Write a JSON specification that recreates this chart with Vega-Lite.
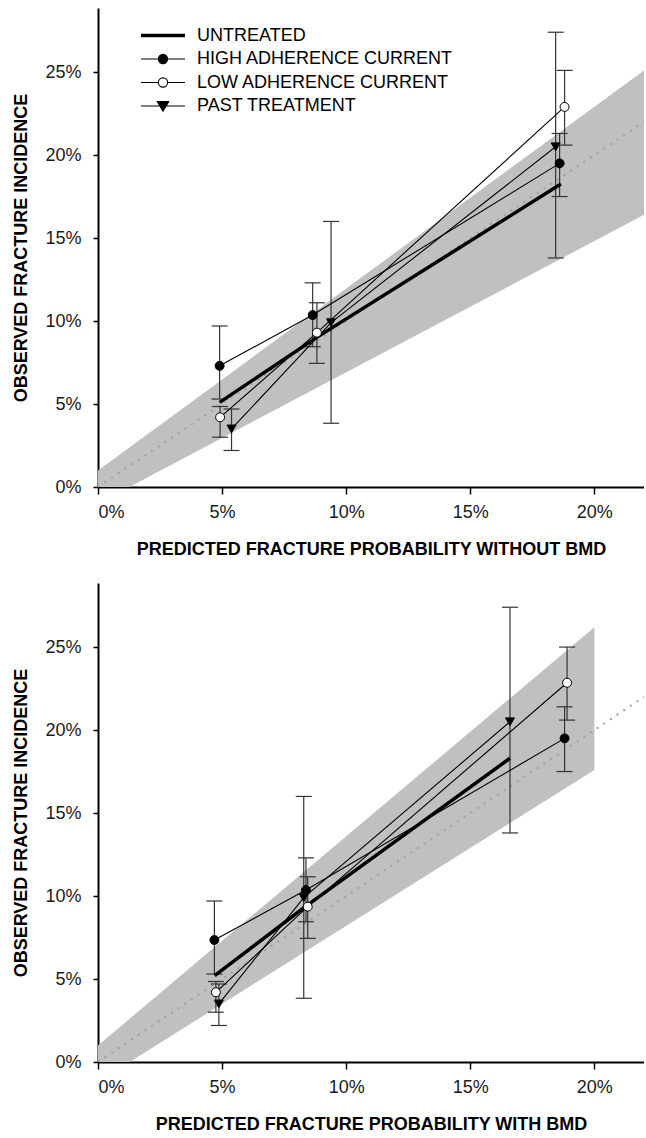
{
  "$schema": "https://vega.github.io/schema/vega-lite/v6.json",
  "background": "white",
  "padding": {"left": 12, "top": 8, "right": 0, "bottom": 0},
  "spacing": 25,
  "datasets": {
    "pts": [
      {"panel": "top", "series": "UNTREATED", "x": 0.049, "y": 0.051, "lo": null, "hi": null},
      {"panel": "top", "series": "UNTREATED", "x": 0.088, "y": 0.090, "lo": null, "hi": null},
      {"panel": "top", "series": "UNTREATED", "x": 0.1865, "y": 0.1825, "lo": null, "hi": null},
      {"panel": "top", "series": "HIGH ADHERENCE CURRENT", "x": 0.049, "y": 0.073, "lo": 0.053, "hi": 0.097},
      {"panel": "top", "series": "HIGH ADHERENCE CURRENT", "x": 0.0865, "y": 0.1036, "lo": 0.0845, "hi": 0.123},
      {"panel": "top", "series": "HIGH ADHERENCE CURRENT", "x": 0.186, "y": 0.195, "lo": 0.175, "hi": 0.213},
      {"panel": "top", "series": "LOW ADHERENCE CURRENT", "x": 0.0492, "y": 0.042, "lo": 0.030, "hi": 0.0485},
      {"panel": "top", "series": "LOW ADHERENCE CURRENT", "x": 0.0882, "y": 0.093, "lo": 0.0745, "hi": 0.111},
      {"panel": "top", "series": "LOW ADHERENCE CURRENT", "x": 0.188, "y": 0.229, "lo": 0.206, "hi": 0.251},
      {"panel": "top", "series": "PAST TREATMENT", "x": 0.0538, "y": 0.035, "lo": 0.022, "hi": 0.047},
      {"panel": "top", "series": "PAST TREATMENT", "x": 0.0939, "y": 0.099, "lo": 0.0384, "hi": 0.160},
      {"panel": "top", "series": "PAST TREATMENT", "x": 0.1844, "y": 0.205, "lo": 0.138, "hi": 0.274},
      {"panel": "bottom", "series": "UNTREATED", "x": 0.047, "y": 0.052, "lo": null, "hi": null},
      {"panel": "bottom", "series": "UNTREATED", "x": 0.083, "y": 0.093, "lo": null, "hi": null},
      {"panel": "bottom", "series": "UNTREATED", "x": 0.166, "y": 0.183, "lo": null, "hi": null},
      {"panel": "bottom", "series": "HIGH ADHERENCE CURRENT", "x": 0.0469, "y": 0.0735, "lo": 0.053, "hi": 0.097},
      {"panel": "bottom", "series": "HIGH ADHERENCE CURRENT", "x": 0.0838, "y": 0.1036, "lo": 0.0845, "hi": 0.123},
      {"panel": "bottom", "series": "HIGH ADHERENCE CURRENT", "x": 0.188, "y": 0.195, "lo": 0.175, "hi": 0.214},
      {"panel": "bottom", "series": "LOW ADHERENCE CURRENT", "x": 0.0475, "y": 0.042, "lo": 0.030, "hi": 0.0485},
      {"panel": "bottom", "series": "LOW ADHERENCE CURRENT", "x": 0.0845, "y": 0.0936, "lo": 0.0745, "hi": 0.1116},
      {"panel": "bottom", "series": "LOW ADHERENCE CURRENT", "x": 0.189, "y": 0.2285, "lo": 0.206, "hi": 0.250},
      {"panel": "bottom", "series": "PAST TREATMENT", "x": 0.0487, "y": 0.035, "lo": 0.022, "hi": 0.047},
      {"panel": "bottom", "series": "PAST TREATMENT", "x": 0.0829, "y": 0.099, "lo": 0.0384, "hi": 0.160},
      {"panel": "bottom", "series": "PAST TREATMENT", "x": 0.166, "y": 0.205, "lo": 0.138, "hi": 0.274}
    ],
    "band": [
      {"panel": "top", "x": 0.0, "lo": -0.010, "hi": 0.010},
      {"panel": "top", "x": 0.22, "lo": 0.164, "hi": 0.251},
      {"panel": "bottom", "x": 0.0, "lo": -0.012, "hi": 0.010},
      {"panel": "bottom", "x": 0.20, "lo": 0.176, "hi": 0.262}
    ],
    "diag": [
      {"x": 0.0, "y": 0.0},
      {"x": 0.22, "y": 0.22}
    ]
  },
  "resolve": {"scale": {"stroke": "independent"}, "legend": {"stroke": "independent"}},
  "vconcat": [
    {
      "width": 546,
      "height": 479,
      "layer": [
        {
          "data": {"name": "band"},
          "transform": [{"filter": "datum.panel === 'top'"}],
          "mark": {"type": "area", "color": "#c0c0c0", "opacity": 1, "clip": true},
          "encoding": {
            "x": {"field": "x", "type": "quantitative", "scale": {"domain": [0, 0.22], "nice": false},
                  "axis": {"title": "PREDICTED FRACTURE PROBABILITY WITHOUT BMD", "format": ".0%", "values": [0, 0.05, 0.1, 0.15, 0.2]}},
            "y": {"field": "lo", "type": "quantitative", "scale": {"domain": [0, 0.2886], "nice": false},
                  "axis": {"title": "OBSERVED FRACTURE INCIDENCE", "format": ".0%", "values": [0, 0.05, 0.1, 0.15, 0.2, 0.25]}},
            "y2": {"field": "hi"}
          }
        },
        {
          "data": {"name": "diag"},
          "mark": {"type": "line", "color": "#a0a0a0", "strokeWidth": 2, "strokeDash": [2, 6], "clip": true},
          "encoding": {
            "x": {"field": "x", "type": "quantitative", "scale": {"domain": [0, 0.22], "nice": false}},
            "y": {"field": "y", "type": "quantitative", "scale": {"domain": [0, 0.2886], "nice": false}}
          }
        },
        {
          "data": {"name": "pts"},
          "transform": [{"filter": "datum.panel === 'top' && datum.lo != null"}],
          "mark": {"type": "rule", "color": "#333333", "strokeWidth": 1.2},
          "encoding": {
            "x": {"field": "x", "type": "quantitative", "scale": {"domain": [0, 0.22], "nice": false}},
            "y": {"field": "lo", "type": "quantitative", "scale": {"domain": [0, 0.2886], "nice": false}},
            "y2": {"field": "hi"}
          }
        },
        {
          "data": {"name": "pts"},
          "transform": [{"filter": "datum.panel === 'top' && datum.lo != null"}, {"fold": ["lo", "hi"], "as": ["bound", "val"]}],
          "mark": {"type": "tick", "orient": "horizontal", "size": 16, "thickness": 1.2, "color": "#333333", "opacity": 1},
          "encoding": {
            "x": {"field": "x", "type": "quantitative", "scale": {"domain": [0, 0.22], "nice": false}},
            "y": {"field": "val", "type": "quantitative", "scale": {"domain": [0, 0.2886], "nice": false}}
          }
        },
        {
          "data": {"name": "pts"},
          "transform": [{"filter": "datum.panel === 'top' && datum.series !== 'UNTREATED'"}],
          "mark": {"type": "line", "color": "black", "strokeWidth": 1.1},
          "encoding": {
            "x": {"field": "x", "type": "quantitative", "scale": {"domain": [0, 0.22], "nice": false}},
            "y": {"field": "y", "type": "quantitative", "scale": {"domain": [0, 0.2886], "nice": false}},
            "detail": {"field": "series", "type": "nominal"}
          }
        },
        {
          "data": {"name": "pts"},
          "transform": [{"filter": "datum.panel === 'top' && datum.series === 'UNTREATED'"}],
          "mark": {"type": "line", "strokeWidth": 3.5},
          "encoding": {
            "x": {"field": "x", "type": "quantitative", "scale": {"domain": [0, 0.22], "nice": false}},
            "y": {"field": "y", "type": "quantitative", "scale": {"domain": [0, 0.2886], "nice": false}},
            "stroke": {"field": "series", "type": "nominal",
                       "scale": {"domain": ["UNTREATED", "HIGH ADHERENCE CURRENT", "LOW ADHERENCE CURRENT", "PAST TREATMENT"], "range": ["black", "black", "black", "black"]},
                       "legend": {
                         "title": null, "orient": "none", "legendX": 43, "legendY": 16, "padding": 0,
                         "symbolSize": 1936, "clipHeight": 23, "rowPadding": 0.5, "labelOffset": 25, "symbolOffset": 13,
                         "labelFontSize": 18, "labelFont": "Liberation Sans", "labelColor": "black", "labelLimit": 400,
                         "encode": {"symbols": {"update": {
                           "size": {"value": 1936},
                           "shape": {"signal": "datum.value === 'UNTREATED' ? 'M-1,0H1' : datum.value === 'HIGH ADHERENCE CURRENT' ? 'M-1,0H1M-0.21,0A0.21,0.21,0,1,0,0.21,0A0.21,0.21,0,1,0,-0.21,0Z' : datum.value === 'LOW ADHERENCE CURRENT' ? 'M-1,0H-0.21M0.21,0H1M-0.21,0A0.21,0.21,0,1,0,0.21,0A0.21,0.21,0,1,0,-0.21,0Z' : 'M-1,0H1M-0.26,-0.2L0.26,-0.2L0,0.24Z'"},
                           "fill": {"signal": "datum.value === 'LOW ADHERENCE CURRENT' ? 'white' : 'black'"},
                           "stroke": {"value": "black"},
                           "strokeWidth": {"signal": "datum.value === 'UNTREATED' ? 3.5 : 1.1"},
                           "opacity": {"value": 1}
                         }}}
                       }}
          }
        },
        {
          "data": {"name": "pts"},
          "transform": [{"filter": "datum.panel === 'top' && datum.series !== 'UNTREATED'"}],
          "mark": {"type": "point", "stroke": "black", "strokeWidth": 1, "opacity": 1},
          "encoding": {
            "x": {"field": "x", "type": "quantitative", "scale": {"domain": [0, 0.22], "nice": false}},
            "y": {"field": "y", "type": "quantitative", "scale": {"domain": [0, 0.2886], "nice": false}},
            "shape": {"field": "series", "type": "nominal", "scale": {"domain": ["HIGH ADHERENCE CURRENT", "LOW ADHERENCE CURRENT", "PAST TREATMENT"], "range": ["circle", "circle", "triangle-down"]}, "legend": null},
            "fill": {"field": "series", "type": "nominal", "scale": {"domain": ["HIGH ADHERENCE CURRENT", "LOW ADHERENCE CURRENT", "PAST TREATMENT"], "range": ["black", "white", "black"]}, "legend": null},
            "size": {"field": "series", "type": "nominal", "scale": {"domain": ["HIGH ADHERENCE CURRENT", "LOW ADHERENCE CURRENT", "PAST TREATMENT"], "range": [80, 80, 135]}, "legend": null}
          }
        }
      ]
    },
    {
      "width": 546,
      "height": 479,
      "layer": [
        {
          "data": {"name": "band"},
          "transform": [{"filter": "datum.panel === 'bottom'"}],
          "mark": {"type": "area", "color": "#c0c0c0", "opacity": 1, "clip": true},
          "encoding": {
            "x": {"field": "x", "type": "quantitative", "scale": {"domain": [0, 0.22], "nice": false},
                  "axis": {"title": "PREDICTED FRACTURE PROBABILITY WITH BMD", "format": ".0%", "values": [0, 0.05, 0.1, 0.15, 0.2]}},
            "y": {"field": "lo", "type": "quantitative", "scale": {"domain": [0, 0.2886], "nice": false},
                  "axis": {"title": "OBSERVED FRACTURE INCIDENCE", "format": ".0%", "values": [0, 0.05, 0.1, 0.15, 0.2, 0.25]}},
            "y2": {"field": "hi"}
          }
        },
        {
          "data": {"name": "diag"},
          "mark": {"type": "line", "color": "#a0a0a0", "strokeWidth": 2, "strokeDash": [2, 6], "clip": true},
          "encoding": {
            "x": {"field": "x", "type": "quantitative", "scale": {"domain": [0, 0.22], "nice": false}},
            "y": {"field": "y", "type": "quantitative", "scale": {"domain": [0, 0.2886], "nice": false}}
          }
        },
        {
          "data": {"name": "pts"},
          "transform": [{"filter": "datum.panel === 'bottom' && datum.lo != null"}],
          "mark": {"type": "rule", "color": "#333333", "strokeWidth": 1.2},
          "encoding": {
            "x": {"field": "x", "type": "quantitative", "scale": {"domain": [0, 0.22], "nice": false}},
            "y": {"field": "lo", "type": "quantitative", "scale": {"domain": [0, 0.2886], "nice": false}},
            "y2": {"field": "hi"}
          }
        },
        {
          "data": {"name": "pts"},
          "transform": [{"filter": "datum.panel === 'bottom' && datum.lo != null"}, {"fold": ["lo", "hi"], "as": ["bound", "val"]}],
          "mark": {"type": "tick", "orient": "horizontal", "size": 16, "thickness": 1.2, "color": "#333333", "opacity": 1},
          "encoding": {
            "x": {"field": "x", "type": "quantitative", "scale": {"domain": [0, 0.22], "nice": false}},
            "y": {"field": "val", "type": "quantitative", "scale": {"domain": [0, 0.2886], "nice": false}}
          }
        },
        {
          "data": {"name": "pts"},
          "transform": [{"filter": "datum.panel === 'bottom' && datum.series !== 'UNTREATED'"}],
          "mark": {"type": "line", "color": "black", "strokeWidth": 1.1},
          "encoding": {
            "x": {"field": "x", "type": "quantitative", "scale": {"domain": [0, 0.22], "nice": false}},
            "y": {"field": "y", "type": "quantitative", "scale": {"domain": [0, 0.2886], "nice": false}},
            "detail": {"field": "series", "type": "nominal"}
          }
        },
        {
          "data": {"name": "pts"},
          "transform": [{"filter": "datum.panel === 'bottom' && datum.series === 'UNTREATED'"}],
          "mark": {"type": "line", "color": "black", "strokeWidth": 3.5},
          "encoding": {
            "x": {"field": "x", "type": "quantitative", "scale": {"domain": [0, 0.22], "nice": false}},
            "y": {"field": "y", "type": "quantitative", "scale": {"domain": [0, 0.2886], "nice": false}}
          }
        },
        {
          "data": {"name": "pts"},
          "transform": [{"filter": "datum.panel === 'bottom' && datum.series !== 'UNTREATED'"}],
          "mark": {"type": "point", "stroke": "black", "strokeWidth": 1, "opacity": 1},
          "encoding": {
            "x": {"field": "x", "type": "quantitative", "scale": {"domain": [0, 0.22], "nice": false}},
            "y": {"field": "y", "type": "quantitative", "scale": {"domain": [0, 0.2886], "nice": false}},
            "shape": {"field": "series", "type": "nominal", "scale": {"domain": ["HIGH ADHERENCE CURRENT", "LOW ADHERENCE CURRENT", "PAST TREATMENT"], "range": ["circle", "circle", "triangle-down"]}, "legend": null},
            "fill": {"field": "series", "type": "nominal", "scale": {"domain": ["HIGH ADHERENCE CURRENT", "LOW ADHERENCE CURRENT", "PAST TREATMENT"], "range": ["black", "white", "black"]}, "legend": null},
            "size": {"field": "series", "type": "nominal", "scale": {"domain": ["HIGH ADHERENCE CURRENT", "LOW ADHERENCE CURRENT", "PAST TREATMENT"], "range": [80, 80, 135]}, "legend": null}
          }
        }
      ]
    }
  ],
  "config": {
    "font": "Liberation Sans",
    "view": {"stroke": null},
    "axis": {
      "grid": false,
      "domainColor": "black",
      "domainWidth": 2,
      "tickColor": "black",
      "tickWidth": 1.5,
      "labelFont": "Liberation Sans",
      "labelFontSize": 18,
      "labelColor": "#1a1a1a",
      "titleFont": "Liberation Sans",
      "titleFontSize": 18,
      "titleFontWeight": "bold",
      "titleColor": "black"
    },
    "axisX": {"tickSize": 7, "labelPadding": 9, "titlePadding": 19},
    "axisY": {"tickSize": 5, "labelPadding": 12, "titlePadding": 14}
  }
}
